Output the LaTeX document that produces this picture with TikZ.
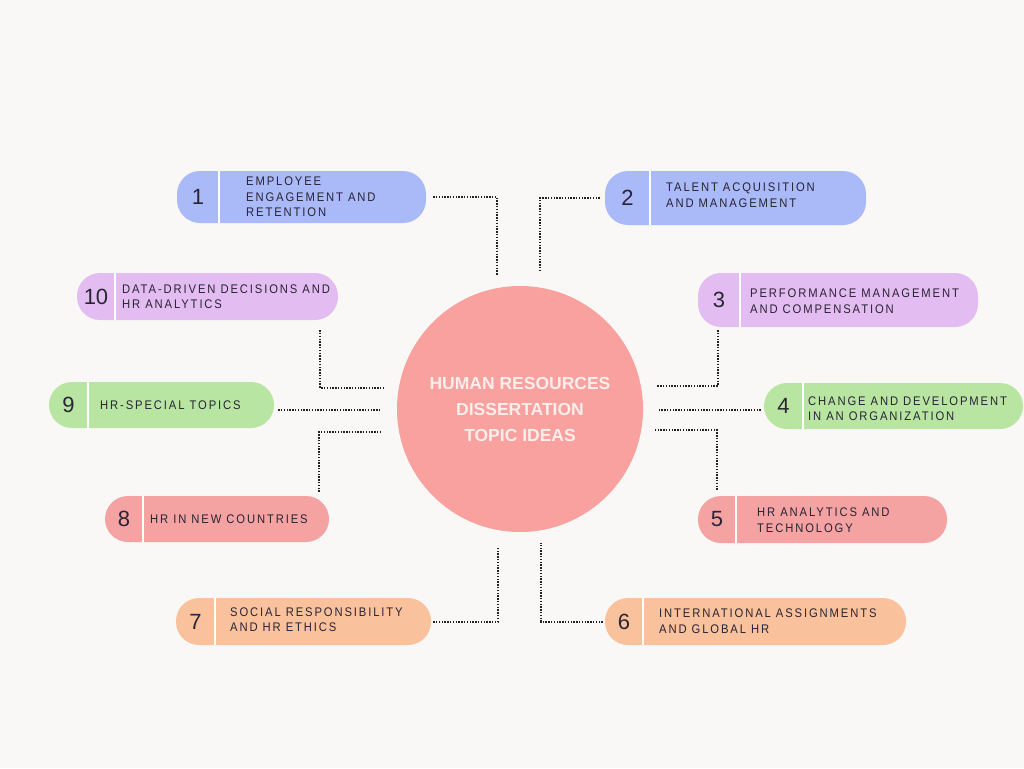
\documentclass[tikz,border=0pt]{standalone}
\usepackage{fontspec}
\setmainfont{Liberation Sans}
\newfontfamily\pillfont[LetterSpace=15,FakeStretch=0.9]{Liberation Sans}
\usepackage{xcolor}
\usepackage{tikz}
\usetikzlibrary{positioning}

\begin{document}
\begin{tikzpicture}[x=1pt,y=-1pt,
  pill/.style={rectangle,draw=none,rounded corners=23pt,inner sep=0pt},
  pnum/.style={inner sep=0pt,text=inkcol,font=\fontsize{22}{22}\selectfont},
  ptext/.style={anchor=west,align=left,inner sep=0pt,text=inkcol,
    font=\pillfont\fontsize{12.5}{15.5}\selectfont},
  divider/.style={white,line width=2pt},
  link/.style={draw=linkcol,line width=2pt,dash pattern=on 1.4pt off 1.4pt},
  hub/.style={circle,fill=hubcol,minimum size=246pt,inner sep=0pt,align=center,
    text=hubtext,font=\bfseries\fontsize{17.5}{26}\selectfont}]
\definecolor{bgcol}{HTML}{FAF8F6}
\definecolor{hubcol}{HTML}{F9A19E}
\definecolor{hubtext}{HTML}{FDEEEC}
\definecolor{bluecol}{HTML}{AAB9F8}
\definecolor{lilaccol}{HTML}{E3BDF2}
\definecolor{greencol}{HTML}{B8E6A2}
\definecolor{rosecol}{HTML}{F4A2A2}
\definecolor{peachcol}{HTML}{F9C29C}
\definecolor{inkcol}{HTML}{2A2434}
\definecolor{linkcol}{HTML}{222222}

% Background
\fill[bgcol] (0,0) rectangle (1024,768);
\useasboundingbox (0,0) rectangle (1024,768);

% Central circle
\node[hub] (hub) at (520,409) {HUMAN RESOURCES\\DISSERTATION\\TOPIC IDEAS};

% Pills - left column
\node[pill,fill=bluecol,minimum width=249pt,minimum height=52pt] (p1) at (301.5,197) {};
\node[pill,fill=lilaccol,minimum width=261pt,minimum height=47pt] (p10) at (207.5,296.5) {};
\node[pill,fill=greencol,minimum width=225pt,minimum height=46pt] (p9) at (161.5,405) {};
\node[pill,fill=rosecol,minimum width=224pt,minimum height=46pt] (p8) at (217,519) {};
\node[pill,fill=peachcol,minimum width=255pt,minimum height=47pt] (p7) at (303.5,621.5) {};

% Pills - right column
\node[pill,fill=bluecol,minimum width=261pt,minimum height=54pt] (p2) at (735.5,198) {};
\node[pill,fill=lilaccol,minimum width=280pt,minimum height=54pt] (p3) at (838,300) {};
\node[pill,fill=greencol,minimum width=259pt,minimum height=46pt] (p4) at (893.5,406) {};
\node[pill,fill=rosecol,minimum width=249pt,minimum height=47pt] (p5) at (822.5,519.5) {};
\node[pill,fill=peachcol,minimum width=301pt,minimum height=47pt] (p6) at (755.5,621.5) {};

% Dividers between number and label
\draw[divider] (p1.north -| 219,0) -- (p1.south -| 219,0);
\draw[divider] (p10.north -| 115,0) -- (p10.south -| 115,0);
\draw[divider] (p9.north -| 88,0) -- (p9.south -| 88,0);
\draw[divider] (p8.north -| 143,0) -- (p8.south -| 143,0);
\draw[divider] (p7.north -| 215,0) -- (p7.south -| 215,0);
\draw[divider] (p2.north -| 650,0) -- (p2.south -| 650,0);
\draw[divider] (p3.north -| 740,0) -- (p3.south -| 740,0);
\draw[divider] (p4.north -| 803,0) -- (p4.south -| 803,0);
\draw[divider] (p5.north -| 736,0) -- (p5.south -| 736,0);
\draw[divider] (p6.north -| 643,0) -- (p6.south -| 643,0);

% Numbers
\node[pnum] (n1) at (198,197) {1};
\node[pnum] (n10) at (96,296.5) {10};
\node[pnum] (n9) at (68.5,405) {9};
\node[pnum] (n8) at (124,519) {8};
\node[pnum] (n7) at (195.5,621.5) {7};
\node[pnum] (n2) at (627.5,198) {2};
\node[pnum] (n3) at (719,300) {3};
\node[pnum] (n4) at (783.5,406) {4};
\node[pnum] (n5) at (717,519.5) {5};
\node[pnum] (n6) at (624,621.5) {6};

% Labels
\node[ptext] (t1) at (246,197) {EMPLOYEE\\ENGAGEMENT AND\\RETENTION};
\node[ptext] (t10) at (122,296.5) {DATA-DRIVEN DECISIONS AND\\HR ANALYTICS};
\node[ptext] (t9) at (100,405) {HR-SPECIAL TOPICS};
\node[ptext] (t8) at (150,519) {HR IN NEW COUNTRIES};
\node[ptext] (t7) at (230,619.5) {SOCIAL RESPONSIBILITY\\AND HR ETHICS};
\node[ptext] (t2) at (666,195) {TALENT ACQUISITION\\AND MANAGEMENT};
\node[ptext] (t3) at (750,301) {PERFORMANCE MANAGEMENT\\AND COMPENSATION};
\node[ptext] (t4) at (808,408.5) {CHANGE AND DEVELOPMENT\\IN AN ORGANIZATION};
\node[ptext] (t5) at (757,520) {HR ANALYTICS AND\\TECHNOLOGY};
\node[ptext] (t6) at (659,621) {INTERNATIONAL ASSIGNMENTS\\AND GLOBAL HR};

% Free ends of the dotted links, next to the circle
\coordinate (e1) at (497,275);
\coordinate (e2) at (540,271);
\coordinate (e10) at (383,388);
\coordinate (e9) at (380,410);
\coordinate (e8) at (380,432);
\coordinate (e3) at (657,386);
\coordinate (e4) at (658,410);
\coordinate (e5) at (654,430);
\coordinate (e7) at (498,547);
\coordinate (e6) at (541,543);

% Dotted links
\draw[link] ([xshift=7pt]p1.east) -| (e1);
\draw[link] ([xshift=-5pt]p2.west) -| (e2);
\draw[link] ([shift={(-18pt,-10pt)}]p10.south east) |- (e10);
\draw[link] (p9.east |- e9) ++(4,0) -- (e9);
\draw[link] ([shift={(-10pt,4pt)}]p8.north east) |- (e8);
\draw[link] ([shift={(20pt,-3pt)}]p3.south west) |- (e3);
\draw[link] (p4.west |- e4) ++(-3,0) -- (e4);
\draw[link] ([shift={(19pt,6pt)}]p5.north west) |- (e5);
\draw[link] ([xshift=2pt]p7.east) -| (e7);
\draw[link] ([xshift=-2pt]p6.west) -| (e6);
\end{tikzpicture}
\end{document}
